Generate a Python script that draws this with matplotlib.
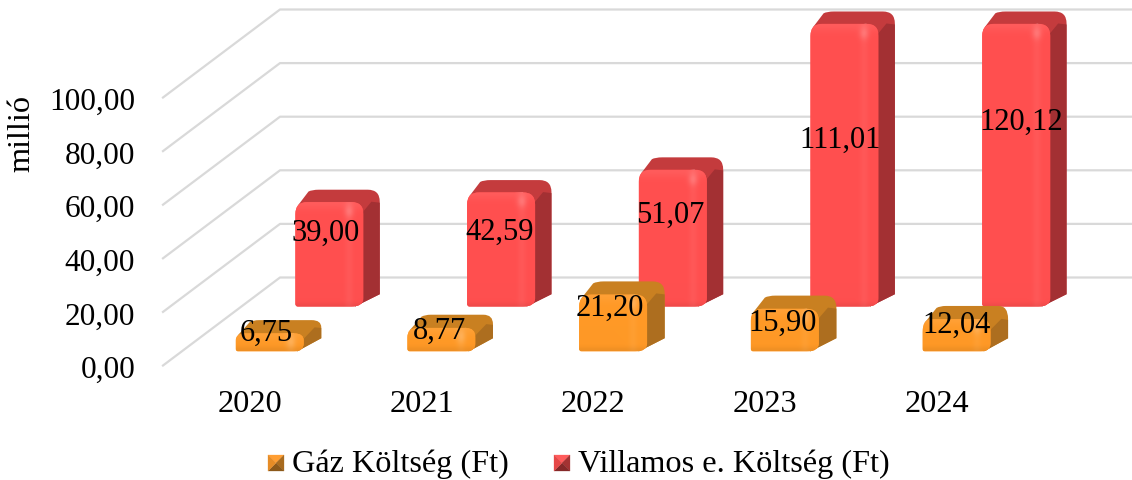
import numpy as np
from matplotlib import pyplot as plt
from matplotlib.path import Path
from matplotlib.patches import PathPatch, Polygon

plt.rcParams['font.family'] = ['Liberation Serif', 'DejaVu Serif']

years = ['2020', '2021', '2022', '2023', '2024']
gas_cost = [6.75, 8.77, 21.20, 15.90, 12.04]
electric_cost = [39.00, 42.59, 51.07, 111.01, 120.12]
y_ticks = [0, 20, 40, 60, 80, 100]

W, H = 1132, 481
FS_TICK = 22.5
FS_CAT = 23.3
FS_LABEL = 22
FS_LEGEND = 23.2

#pixel layout of the fake 3D box
AX_LEFT, AX_BOTTOM = 163, 390
ZERO_PX = 366.5
PX_PER_UNIT = 2.68
CAT0_PX = 250
PX_PER_CAT = 171.7
BACK_DX = 117 / PX_PER_CAT
BACK_DY = 88 / PX_PER_UNIT
BAR_START = (217 - CAT0_PX) / PX_PER_CAT
BAR_W = 68 / PX_PER_CAT
BAR_CAP = 105.5   #excel cuts the tall bars off here

#centre of each data label, in pixels
gas_label_px = [(266, 333), (439, 331), (610, 308), (783, 323), (957, 325)]
elec_label_px = [(326, 233), (500, 232), (670, 215), (840, 140), (1021, 122)]


#x,y in data units pushed back by depth (0 front, 1 back wall)
def project(x, val, depth):
    return x + depth * BACK_DX, val + depth * BACK_DY


def px_to_data(px, py):
    return (px - CAT0_PX) / PX_PER_CAT, (ZERO_PX - py) / PX_PER_UNIT


def draw_bar(ax, i, value, d0, d1, front, top, side, z):
    h = min(value, BAR_CAP)
    rx = 12 / PX_PER_CAT
    ry = 12 / PX_PER_UNIT
    if h * PX_PER_UNIT < 34:
        ry = h * 0.4
        rx = rx * 0.8
    xl, yb = project(i + BAR_START, 0, d0)
    xr = xl + BAR_W
    yt = yb + h
    dx = (d1 - d0) * BACK_DX
    dy = (d1 - d0) * BACK_DY

    #whole outline behind the front face, rounded at the back corners
    back_v = [(xl + rx * 0.2, yt - ry * 0.3), (xl + dx * 0.8, yt + dy * 0.85), (xl + dx, yt + dy), (xl + dx + rx * 0.6, yt + dy),
              (xr + dx - rx, yt + dy), (xr + dx, yt + dy), (xr + dx, yt + dy - ry),
              (xr + dx, yb + dy), (xr - rx * 0.7, yb), (xr - rx, yt), (xl + rx * 0.2, yt - ry * 0.3)]
    back_c = [Path.MOVETO, Path.LINETO, Path.CURVE3, Path.CURVE3,
              Path.LINETO, Path.CURVE3, Path.CURVE3,
              Path.LINETO, Path.LINETO, Path.LINETO, Path.CLOSEPOLY]
    back = PathPatch(Path(back_v, back_c), fc=top, ec='none', zorder=z)
    ax.add_patch(back)

    #darker right side, the top colour wraps round the corner above it
    side_pts = [(xr - rx, yb - 1), (xr + dx + 0.01, yb + dy - 1), (xr + dx + 0.01, yt + dy - ry * 1.1),
                (xr + dx - rx * 0.7, yt + dy - ry * 1.0), (xr - rx * 0.1, yt - ry * 0.9), (xr - rx, yt - ry)]
    side_p = Polygon(side_pts, closed=True, fc=side, ec='none', zorder=z + 0.1)
    ax.add_patch(side_p)
    side_p.set_clip_path(back)

    #front face with rounded top corners
    r2 = 2.5 / PX_PER_CAT
    front_v = [(xl, yb + 1), (xl, yt - ry), (xl, yt), (xl + rx, yt), (xr - rx, yt), (xr, yt), (xr, yt - ry),
               (xr, yb + 3), (xr, yb), (xr - rx, yb), (xl + r2, yb), (xl, yb), (xl, yb + 1)]
    front_c = [Path.MOVETO, Path.LINETO, Path.CURVE3, Path.CURVE3, Path.LINETO, Path.CURVE3, Path.CURVE3,
               Path.LINETO, Path.CURVE3, Path.CURVE3, Path.LINETO, Path.CURVE3, Path.CURVE3]
    patch = PathPatch(Path(front_v, front_c), fc=front, ec='none', zorder=z + 0.2)
    ax.add_patch(patch)

    #soft shine on the front face
    px_w, px_h = 68, max(int(h * PX_PER_UNIT), 4)
    u, v = np.meshgrid(np.linspace(0, 1, px_w), np.arange(px_h))
    shine = 0.05 * np.exp(-((u - 0.80) / 0.06) ** 2) + 0.07 * np.exp(-(v / 7.0) ** 2)
    shine += 0.16 * np.exp(-((u - 0.80) / 0.07) ** 2 - ((v - 9) / 6.0) ** 2)
    shade = 0.06 * np.exp(-((px_h - 1 - v) / 4.0) ** 2)
    rgb = np.zeros((px_h, px_w, 3))
    for k in range(3):
        rgb[:, :, k] = front[k] + (1 - front[k]) * shine - front[k] * shade
    img = ax.imshow(np.clip(rgb, 0, 1), extent=(xl, xr, yb, yt), origin='upper', aspect='auto',
                    zorder=z + 0.3, interpolation='bilinear')
    img.set_clip_path(patch)


fig = plt.figure(figsize=(W / 100, H / 100), dpi=100)
ax = fig.add_axes([AX_LEFT / W, (H - AX_BOTTOM) / H, 1 - AX_LEFT / W, AX_BOTTOM / H])

#walls
grid_c = '#D9D9D9'
x_front = (AX_LEFT - CAT0_PX) / PX_PER_CAT
x_end = (W - CAT0_PX) / PX_PER_CAT
for t in y_ticks:
    xb, yb = project(x_front, t, 1)
    ax.plot([x_front, xb, x_end], [t, yb, yb], color=grid_c, lw=1.6, zorder=1, clip_on=False)

red_front = (1.0, 0.31, 0.31)
red_top = (0.77, 0.23, 0.24)
red_side = (0.64, 0.19, 0.20)
orange_front = (1.0, 0.60, 0.15)
orange_top = (0.79, 0.50, 0.13)
orange_side = (0.68, 0.43, 0.12)

for i, v in enumerate(electric_cost):
    draw_bar(ax, i, v, 0.67, 0.81, red_front, red_top, red_side, 2 + i)
for i, v in enumerate(gas_cost):
    draw_bar(ax, i, v, 0.16, 0.31, orange_front, orange_top, orange_side, 10 + i)

#data labels, decimal comma like the original
for v, (px, py) in zip(electric_cost, elec_label_px):
    x, y = px_to_data(px, py)
    ax.text(x, y, ('%.2f' % v).replace('.', ','), fontsize=FS_LABEL, ha='center', va='center', color='black', zorder=30)
for v, (px, py) in zip(gas_cost, gas_label_px):
    x, y = px_to_data(px, py)
    ax.text(x, y, ('%.2f' % v).replace('.', ','), fontsize=FS_LABEL, ha='center', va='center', color='black', zorder=30)

ax.set_xlim(x_front, x_end)
ax.set_ylim((ZERO_PX - AX_BOTTOM) / PX_PER_UNIT, ZERO_PX / PX_PER_UNIT)
ax.set_xticks(range(len(years)))
ax.set_xticklabels(years, fontsize=FS_CAT)
ax.set_yticks(np.array(y_ticks) - 0.2)
ax.set_yticklabels([('%.2f' % t).replace('.', ',') for t in y_ticks], fontsize=FS_TICK)
ax.tick_params(axis='y', length=0, pad=20)
ax.tick_params(axis='x', length=0, pad=0)
for s in ax.spines.values():
    s.set_visible(False)
ax.patch.set_alpha(0)

fig.text(22 / W, 1 - 133 / H, 'millió', rotation=90, fontsize=FS_CAT, ha='center', va='center')


#legend keys look like little pyramids
def legend_key(x0, light, mid, dark, darker):
    y0, s = 456, 16
    corners = [(x0, y0), (x0 + s, y0), (x0 + s, y0 + s), (x0, y0 + s)]
    mid_pt = (x0 + s / 2, y0 + s / 2)
    for k, c in enumerate([light, darker, dark, mid]):
        tri = [corners[k], corners[(k + 1) % 4], mid_pt]
        tri = [(a / W, 1 - b / H) for a, b in tri]
        fig.add_artist(Polygon(tri, closed=True, fc=c, ec=c, lw=0.2, transform=fig.transFigure))


legend_key(268, (1.0, 0.62, 0.20), (0.90, 0.55, 0.15), (0.55, 0.35, 0.10), (0.66, 0.42, 0.12))
legend_key(554, (1.0, 0.36, 0.36), (0.90, 0.28, 0.28), (0.52, 0.16, 0.16), (0.64, 0.20, 0.20))
fig.text(292 / W, 1 - 464 / H, 'Gáz Költség (Ft)', fontsize=FS_LEGEND, ha='left', va='center')
fig.text(578 / W, 1 - 464 / H, 'Villamos e. Költség (Ft)', fontsize=FS_LEGEND, ha='left', va='center')

fig.savefig('out.png', dpi=100)
